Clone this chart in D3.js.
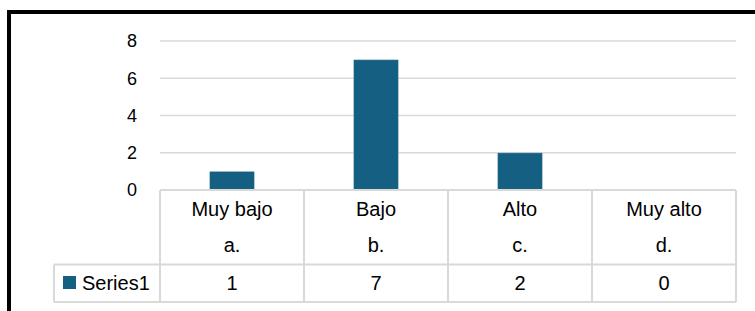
<!DOCTYPE html>
<html>
<head>
<meta charset="utf-8">
<script src="https://cdn.jsdelivr.net/npm/d3@7"></script>
<style>
  body { margin: 0; background: #fff; }
  svg { display: block; }
</style>
</head>
<body>
<div id="chart"></div>
<script>
const categories = ["Muy bajo", "Bajo", "Alto", "Muy alto"];
const letters = ["a.", "b.", "c.", "d."];
const values = [1, 7, 2, 0];
const yTicks = [0, 2, 4, 6, 8];
const seriesName = "Series1";

const W = 755, H = 311;
const barColor = "#156082";
const lineColor = "#d9d9d9";

const svg = d3.select("#chart").append("svg")
    .attr("width", W)
    .attr("height", H);

// outer frame (only left and top are in view)
svg.append("path")
    .attr("d", "M9,311 V12 H755")
    .attr("fill", "none")
    .attr("stroke", "#000")
    .attr("stroke-width", 4);

const x = d3.scaleBand().domain(categories).range([160, 736]);
const y = d3.scaleLinear().domain([0, 8]).range([190, 41]);

// gridlines
svg.append("g").selectAll("line")
    .data(yTicks.filter(d => d > 0))
    .join("line")
    .attr("x1", 160).attr("x2", 736)
    .attr("y1", d => y(d)).attr("y2", d => y(d))
    .attr("stroke", lineColor)
    .attr("stroke-width", 1.5);

// y tick labels
svg.append("g").selectAll("text")
    .data(yTicks)
    .join("text")
    .attr("x", 137)
    .attr("y", d => y(d))
    .attr("dy", "0.36em")
    .attr("text-anchor", "end")
    .style("font", "18px 'Liberation Sans', Arial, sans-serif")
    .attr("fill", "#000")
    .text(d => d);

// bars
const bw = x.bandwidth() * 0.3125;
svg.append("g").selectAll("rect")
    .data(values)
    .join("rect")
    .attr("x", (d, i) => x(categories[i]) + (x.bandwidth() - bw) / 2)
    .attr("y", d => y(d))
    .attr("width", bw)
    .attr("height", d => y(0) - y(d))
    .attr("fill", barColor)
    .attr("stroke", "#fff")
    .attr("stroke-opacity", 0.35)
    .attr("stroke-width", 1);

// data table
const rowTop = y(0), rowMid = 264.5, rowBot = 302;
const tbl = svg.append("g")
    .attr("stroke", lineColor)
    .attr("stroke-width", 2)
    .attr("fill", "none");
tbl.append("line").attr("x1", 160).attr("x2", 736).attr("y1", rowTop).attr("y2", rowTop);
tbl.append("line").attr("x1", 54).attr("x2", 736).attr("y1", rowMid).attr("y2", rowMid);
tbl.append("line").attr("x1", 54).attr("x2", 736).attr("y1", rowBot).attr("y2", rowBot);
tbl.append("line").attr("x1", 54).attr("x2", 54).attr("y1", rowMid).attr("y2", rowBot);
tbl.selectAll("line.v")
    .data(categories.map(c => x(c)).concat([x.range()[1]]))
    .join("line")
    .attr("class", "v")
    .attr("x1", d => d).attr("x2", d => d)
    .attr("y1", rowTop).attr("y2", rowBot);

const font = "20px 'Liberation Sans', Arial, sans-serif";
const cx = c => x(c) + x.bandwidth() / 2;

svg.append("g").selectAll("text")
    .data(categories)
    .join("text")
    .attr("x", d => cx(d))
    .attr("y", 216)
    .attr("text-anchor", "middle")
    .style("font", font)
    .text(d => d);

svg.append("g").selectAll("text")
    .data(letters)
    .join("text")
    .attr("x", (d, i) => cx(categories[i]))
    .attr("y", 252)
    .attr("text-anchor", "middle")
    .style("font", font)
    .text(d => d);

svg.append("g").selectAll("text")
    .data(values)
    .join("text")
    .attr("x", (d, i) => cx(categories[i]))
    .attr("y", 290)
    .attr("text-anchor", "middle")
    .style("font", font)
    .text(d => d);

// legend key
svg.append("rect")
    .attr("x", 63).attr("y", 276)
    .attr("width", 13).attr("height", 13)
    .attr("fill", barColor);
svg.append("text")
    .attr("x", 82).attr("y", 290)
    .style("font", font)
    .text(seriesName);
</script>
</body>
</html>
